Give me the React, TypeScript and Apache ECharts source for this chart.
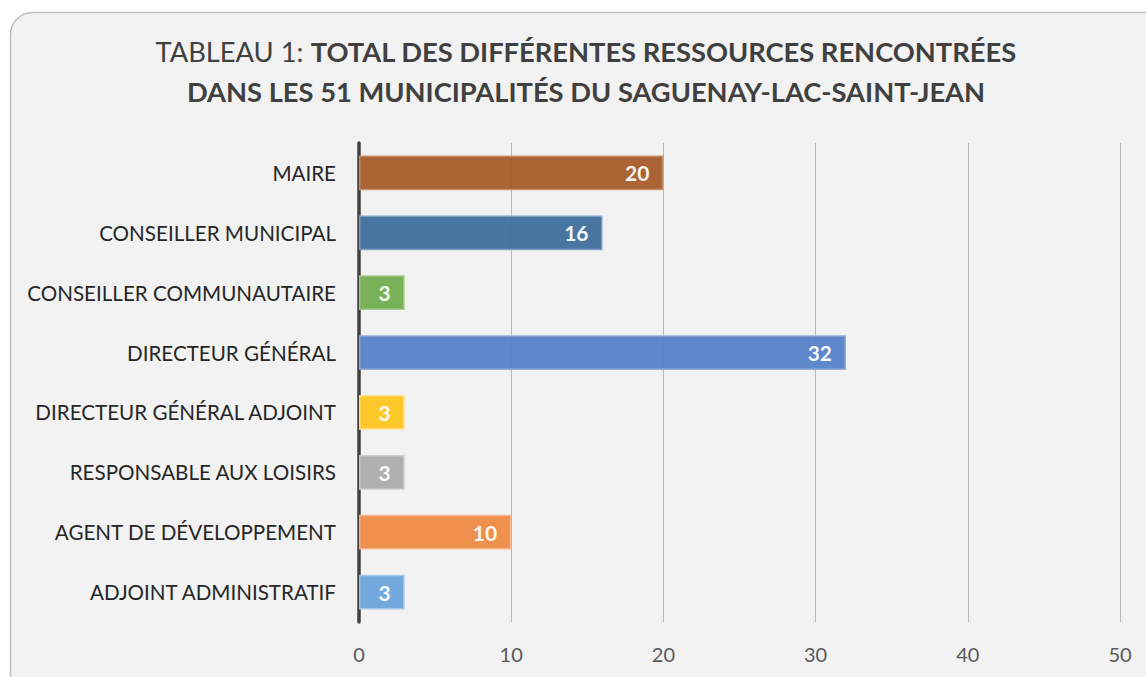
import React, { useEffect, useRef } from "react";
import * as echarts from "echarts";

const categories = [
  "MAIRE",
  "CONSEILLER MUNICIPAL",
  "CONSEILLER COMMUNAUTAIRE",
  "DIRECTEUR GÉNÉRAL",
  "DIRECTEUR GÉNÉRAL ADJOINT",
  "RESPONSABLE AUX LOISIRS",
  "AGENT DE DÉVELOPPEMENT",
  "ADJOINT ADMINISTRATIF",
];
const values = [20, 16, 3, 32, 3, 3, 10, 3];
const barColors = ["#a65c2b", "#3f6f9c", "#72ad4f", "#5581c9", "#ffc51f", "#acacac", "#ef8a45", "#6aa3da"];
const borderColors = ["#c98e68", "#7ea0c2", "#a5cb8c", "#91acdb", "#ffe08a", "#cccccc", "#f5b48a", "#a4c7ea"];
const xTicks = [0, 10, 20, 30, 40, 50];

const FONT = "Lato, 'Open Sans', sans-serif";

export default function App() {
  const ref = useRef<HTMLDivElement>(null);
  useEffect(() => {
    const chart = echarts.init(ref.current!, null, { renderer: "svg" });
    chart.setOption({
      animation: false,
      backgroundColor: "#ffffff",
      textStyle: { fontFamily: FONT },
      graphic: [
        {
          type: "rect",
          z: -10,
          silent: true,
          shape: { x: 10.5, y: 12.5, width: 1160, height: 700, r: 22 },
          style: { fill: "#f2f2f2", stroke: "#bfbfbf", lineWidth: 1.5 },
        },
        {
          type: "text",
          x: 586,
          y: 31,
          silent: true,
          style: {
            text:
              "{n|TABLEAU 1: }{b|TOTAL DES DIFFÉRENTES RESSOURCES RENCONTRÉES}\n{b|DANS LES 51 MUNICIPALITÉS DU SAGUENAY-LAC-SAINT-JEAN}",
            align: "center",
            verticalAlign: "top",
            rich: {
              n: { fontFamily: FONT, fontSize: 27.3, fill: "#404040", color: "#404040", fontWeight: "normal", lineHeight: 40, align: "center" },
              b: { fontFamily: FONT, fontSize: 27.3, fill: "#404040", color: "#404040", fontWeight: "bold", lineHeight: 40, align: "center" },
            },
          },
        },
      ],
      grid: { left: 359, right: 26, top: 143, bottom: 55, containLabel: false },
      xAxis: {
        type: "value",
        min: 0,
        max: 50,
        interval: 10,
        axisLine: { show: false },
        axisTick: { show: false },
        splitLine: { show: true, lineStyle: { color: "#b8b8b8", width: 1 } },
        axisLabel: {
          color: "#595959",
          fontSize: 20,
          margin: 22,
          fontFamily: FONT,
          formatter: (v: number) => (xTicks.includes(v) ? String(v) : ""),
        },
      },
      yAxis: {
        type: "category",
        inverse: true,
        data: categories,
        axisLine: { show: true, lineStyle: { color: "#404040", width: 3.5 } },
        axisTick: { show: false },
        axisLabel: { color: "#262626", fontSize: 20.6, margin: 23, fontFamily: FONT },
      },
      series: [
        {
          type: "bar",
          barWidth: "58%",
          data: values.map((v, i) => ({
            value: v,
            itemStyle: { color: barColors[i], borderColor: borderColors[i], borderWidth: 1.5, opacity: 0.95 },
          })),
          label: {
            show: true,
            position: "insideRight",
            color: "#ffffff",
            fontWeight: "bold",
            fontSize: 21,
            fontFamily: FONT,
            distance: 14,
          },
        },
      ],
    });
    return () => chart.dispose();
  }, []);
  return (
    <div
      ref={ref}
      style={{ position: "absolute", left: 0, top: 0, width: 1146, height: 677 }}
    />
  );
}
